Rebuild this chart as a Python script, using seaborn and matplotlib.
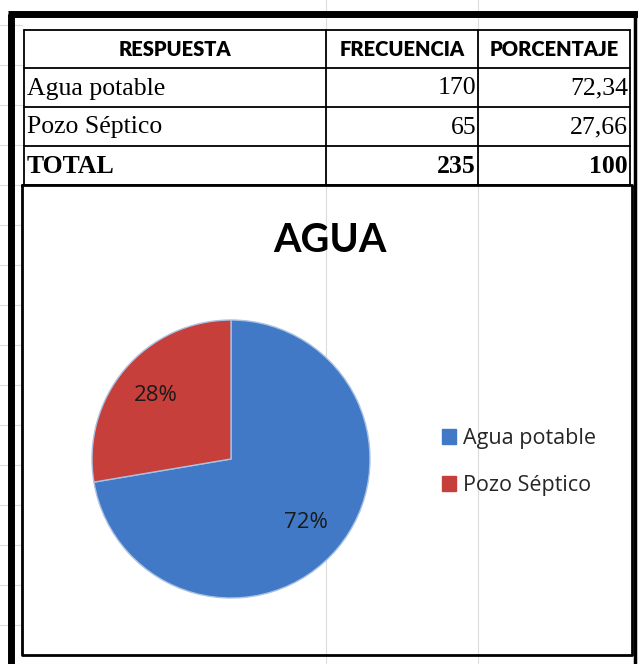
import matplotlib
matplotlib.use("Agg")
import matplotlib.pyplot as plt
from matplotlib.patches import Patch
import seaborn as sns

# table / chart data
respuesta = ["Agua potable", "Pozo Séptico"]
frecuencia = [170, 65]
porcentaje = ["72,34", "27,66"]
total_label = "TOTAL"
total_frec = 235
total_pct = "100"
headers = ["RESPUESTA", "FRECUENCIA", "PORCENTAJE"]
colores = ["#4179c6", "#c63f3b"]
titulo = "AGUA"

sns.set_theme(style="white")
W, H = 638, 664
fig = plt.figure(figsize=(W / 100, H / 100), dpi=100)
fig.patch.set_facecolor("white")

# full-figure axes in pixel coordinates for the sheet/table
bg = fig.add_axes([0, 0, 1, 1])
bg.set_xlim(0, W)
bg.set_ylim(H, 0)
bg.axis("off")

# faint spreadsheet grid
for x in [326, 478]:
    bg.plot([x, x], [0, H], color="#dcdcdc", lw=0.8, zorder=0)
for y in range(25, H, 40):
    bg.plot([0, 22], [y, y], color="#dcdcdc", lw=0.8, zorder=0)

# outer thick frame
bg.plot([11, 11], [14, H], color="black", lw=5, solid_capstyle="butt")
bg.plot([8, W], [14, 14], color="black", lw=5, solid_capstyle="butt")
bg.plot([635, 635], [14, H], color="black", lw=2.5, solid_capstyle="butt")

# table grid
x_cols = [24, 326, 478, 630]
y_rows = [30, 68, 107, 146, 185]
for y in y_rows:
    bg.plot([x_cols[0], x_cols[-1]], [y, y], color="black", lw=1.3)
for x in x_cols:
    bg.plot([x, x], [y_rows[0], y_rows[-1]], color="black", lw=1.3)

# chart box
bg.plot([22, 22, 632, 632, 22], [185, 655, 655, 185, 185], color="black", lw=2)

hdr_font = dict(family="Lato", fontweight="heavy", fontsize=14.5, color="black")
for i, h in enumerate(headers):
    bg.text((x_cols[i] + x_cols[i + 1]) / 2, (y_rows[0] + y_rows[1]) / 2 + 1, h,
            ha="center", va="center", **hdr_font)

body = dict(family="Liberation Serif", fontsize=18.5, color="black")
for r, (name, f, p) in enumerate(zip(respuesta, frecuencia, porcentaje)):
    yc = (y_rows[r + 1] + y_rows[r + 2]) / 2 + 1
    bg.text(x_cols[0] + 3, yc, name, ha="left", va="center", **body)
    bg.text(x_cols[2] - 2, yc, str(f), ha="right", va="center", **body)
    bg.text(x_cols[3] - 2, yc, p, ha="right", va="center", **body)

yc = (y_rows[3] + y_rows[4]) / 2 + 1
bg.text(x_cols[0] + 3, yc, total_label, ha="left", va="center", fontweight="bold", **body)
bg.text(x_cols[2] - 2, yc, str(total_frec), ha="right", va="center", fontweight="bold", **body)
bg.text(x_cols[3] - 2, yc, total_pct, ha="right", va="center", fontweight="bold", **body)

# title
bg.text(330, 240, titulo, ha="center", va="center", family="Lato",
        fontweight="bold", fontsize=28.5, color="black")

# pie
cx, cy, rad = 231, 459, 139
pax = fig.add_axes([(cx - rad) / W, (H - cy - rad) / H, 2 * rad / W, 2 * rad / H])
wedges, _, autotexts = pax.pie(
    frecuencia, colors=colores, startangle=90, counterclock=False,
    autopct=lambda v: f"{v:.0f}%", pctdistance=0.71,
    wedgeprops=dict(edgecolor="#a9c2e4", linewidth=1.0),
    textprops=dict(fontsize=16, family="Open Sans", color="#1a1a1a"),
)
pax.set_xlim(-1, 1)
pax.set_ylim(-1, 1)
pax.set_aspect("equal")

fig.legend(handles=[Patch(facecolor=c, edgecolor=c) for c in colores], labels=respuesta,
           loc="center left", bbox_to_anchor=(423 / W, 1 - 462 / H), frameon=False,
           handlelength=0.65, handleheight=0.65, handletextpad=0.3, labelspacing=1.2,
           prop=dict(family="Open Sans", size=15.5))

fig.savefig("out.png", dpi=100, facecolor="white")
